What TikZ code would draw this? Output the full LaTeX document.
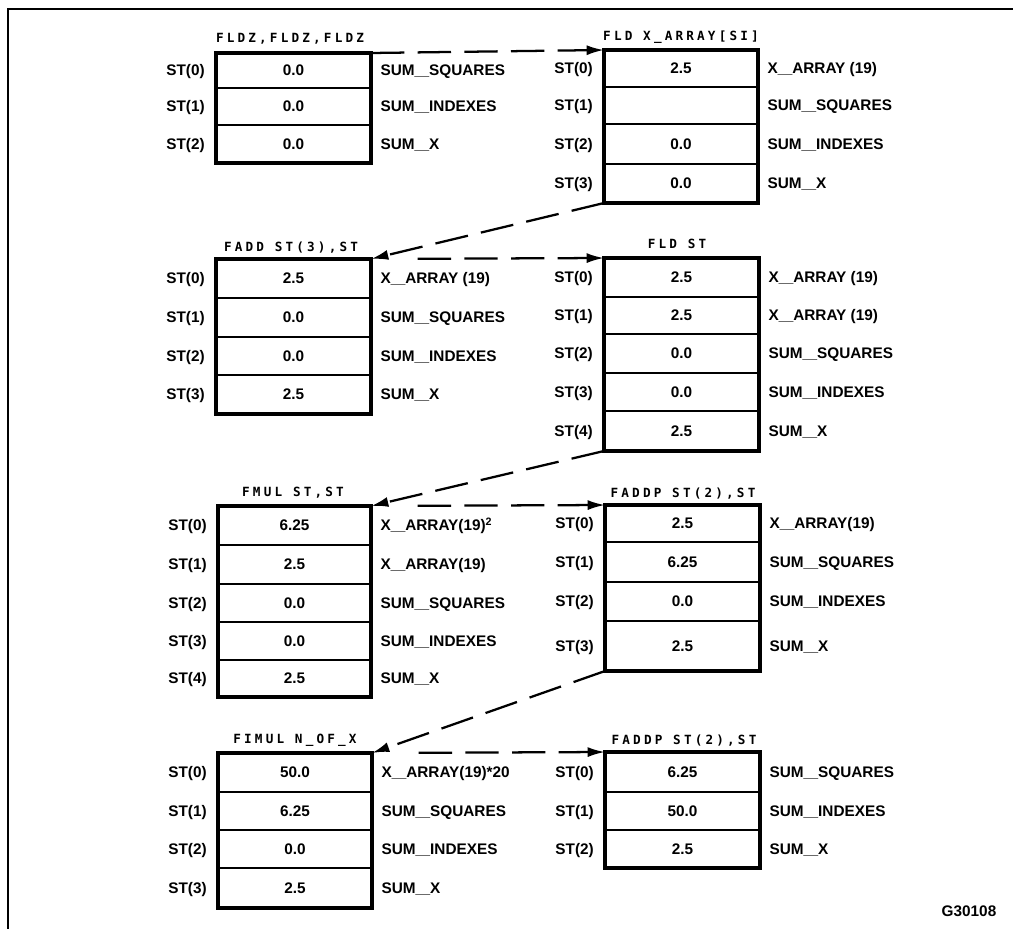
\documentclass[tikz,border=0pt]{standalone}
\usepackage{fontspec}
\usepackage{graphicx}
\setmainfont{Liberation Sans}
\newfontfamily\ttlfont[LetterSpace=25]{DejaVu Sans Mono}
\usetikzlibrary{arrows.meta,calc}
\newcommand\us{\scalebox{1.7}[1]{\_}}
\tikzset{
 box/.style={rectangle, draw=none, inner sep=0pt, outer sep=0pt},
 boxline/.style={line width=2.8pt, line join=miter},
 divider/.style={line width=1.3pt},
 txt/.style={inner sep=0pt, font=\fontsize{11.5}{13}\selectfont\bfseries, text height=8.2pt, text depth=0pt},
 ttl/.style={inner sep=0pt, font=\ttlfont\bfseries\fontsize{9.5}{11}\selectfont, text height=7pt, text depth=0pt},
 conn/.style={line width=1.7pt, dash pattern=on 25pt off 10pt, -{Latex[length=13pt,width=7.5pt]}},
 frameline/.style={line width=2.2pt},
}
% #1 name, #2 x left, #3 x right, #4 y top, #5 rows: ybottom/value/label
\newcommand\stk[5]{%
  \foreach [count=\i from 0, remember=\Yb as \Yp (initially #4)] \Yb/\Val/\Lab in {#5} {
    \draw[divider] (#2,\Yb) -- (#3,\Yb);
    \coordinate (#1-c\i) at ({(#2+#3)/2},{(\Yp+\Yb)/2});
    \node[txt] (#1-v\i) at (#1-c\i) {\Val};
    \node[txt, anchor=east] (#1-s\i) at ([xshift=-8.25pt]#2,{(\Yp+\Yb)/2}) {ST(\i)};
    \node[txt, anchor=west] (#1-n\i) at ([xshift=7pt]#3,{(\Yp+\Yb)/2}) {\Lab};
    \xdef\lastbottom{\Yb}
  }
  \node[box, minimum width={(#3-#2)*0.75pt}, minimum height={(\lastbottom-#4)*0.75pt}] (#1) at ({(#2+#3)/2},{(#4+\lastbottom)/2}) {};
  \draw[boxline] (#1.north west) rectangle (#1.south east);
}
\begin{document}
\begin{tikzpicture}[x=0.75pt,y=-0.75pt]
\useasboundingbox (0,0) rectangle (1013,928);
\draw[frameline] (8,940) -- (8,9) -- (1020,9);

\node[ttl] (t1) at (290,38) {FLDZ,FLDZ,FLDZ};
\node[ttl] (t2) at (681,36) {FLD X\_ARRAY[SI]};
\node[ttl] (t3) at (291,247) {FADD ST(3),ST};
\node[ttl] (t4) at (677,244) {FLD ST};
\node[ttl] (t5) at (293,492) {FMUL ST,ST};
\node[ttl] (t6) at (683,493) {FADDP ST(2),ST};
\node[ttl] (t7) at (295,739) {FIMUL N\_OF\_X};
\node[ttl] (t8) at (684,740) {FADDP ST(2),ST};

\stk{b1}{216}{371}{53}{88/0.0/SUM\us SQUARES, 125/0.0/SUM\us INDEXES, 163/0.0/SUM\us X}
\stk{b2}{604}{758}{50}{87/2.5/X\us ARRAY (19), 124/{}/SUM\us SQUARES, 164/0.0/SUM\us INDEXES, 203/0.0/SUM\us X}
\stk{b3}{216}{371}{259}{298/2.5/X\us ARRAY (19), 337/0.0/SUM\us SQUARES, 375/0.0/SUM\us INDEXES, 414/2.5/SUM\us X}
\stk{b4}{604}{759}{258}{297/2.5/X\us ARRAY (19), 334/2.5/X\us ARRAY (19), 373/0.0/SUM\us SQUARES, 411/0.0/SUM\us INDEXES, 451/2.5/SUM\us X}
\stk{b5}{218}{371}{506}{545/6.25/X\us ARRAY(19)\textsuperscript{2}, 584/2.5/X\us ARRAY(19), 622/0.0/SUM\us SQUARES, 660/0.0/SUM\us INDEXES, 697/2.5/SUM\us X}
\stk{b6}{605}{760}{505}{542/2.5/X\us ARRAY(19), 582/6.25/SUM\us SQUARES, 621/0.0/SUM\us INDEXES, 671/2.5/SUM\us X}
\stk{b7}{218}{372}{753}{792/50.0/X\us ARRAY(19)*20, 830/6.25/SUM\us SQUARES, 868/0.0/SUM\us INDEXES, 908/2.5/SUM\us X}
\stk{b8}{605}{760}{752}{792/6.25/SUM\us SQUARES, 830/50.0/SUM\us INDEXES, 868/2.5/SUM\us X}

\draw[conn] (b1.north east) -- (b2.north west);
\draw[conn] (b2.south west) -- (b3.north east);
\draw[conn, shorten <=35pt] (b3.north east) -- (b4.north west);
\draw[conn] (b4.south west) -- (b5.north east);
\draw[conn, shorten <=35pt] (b5.north east) -- (b6.north west);
\draw[conn] (b6.south west) -- (b7.north east);
\draw[conn, shorten <=35pt] (b7.north east) -- (b8.north west);

\node[txt] (g) at (969,911) {G30108};
\end{tikzpicture}
\end{document}
